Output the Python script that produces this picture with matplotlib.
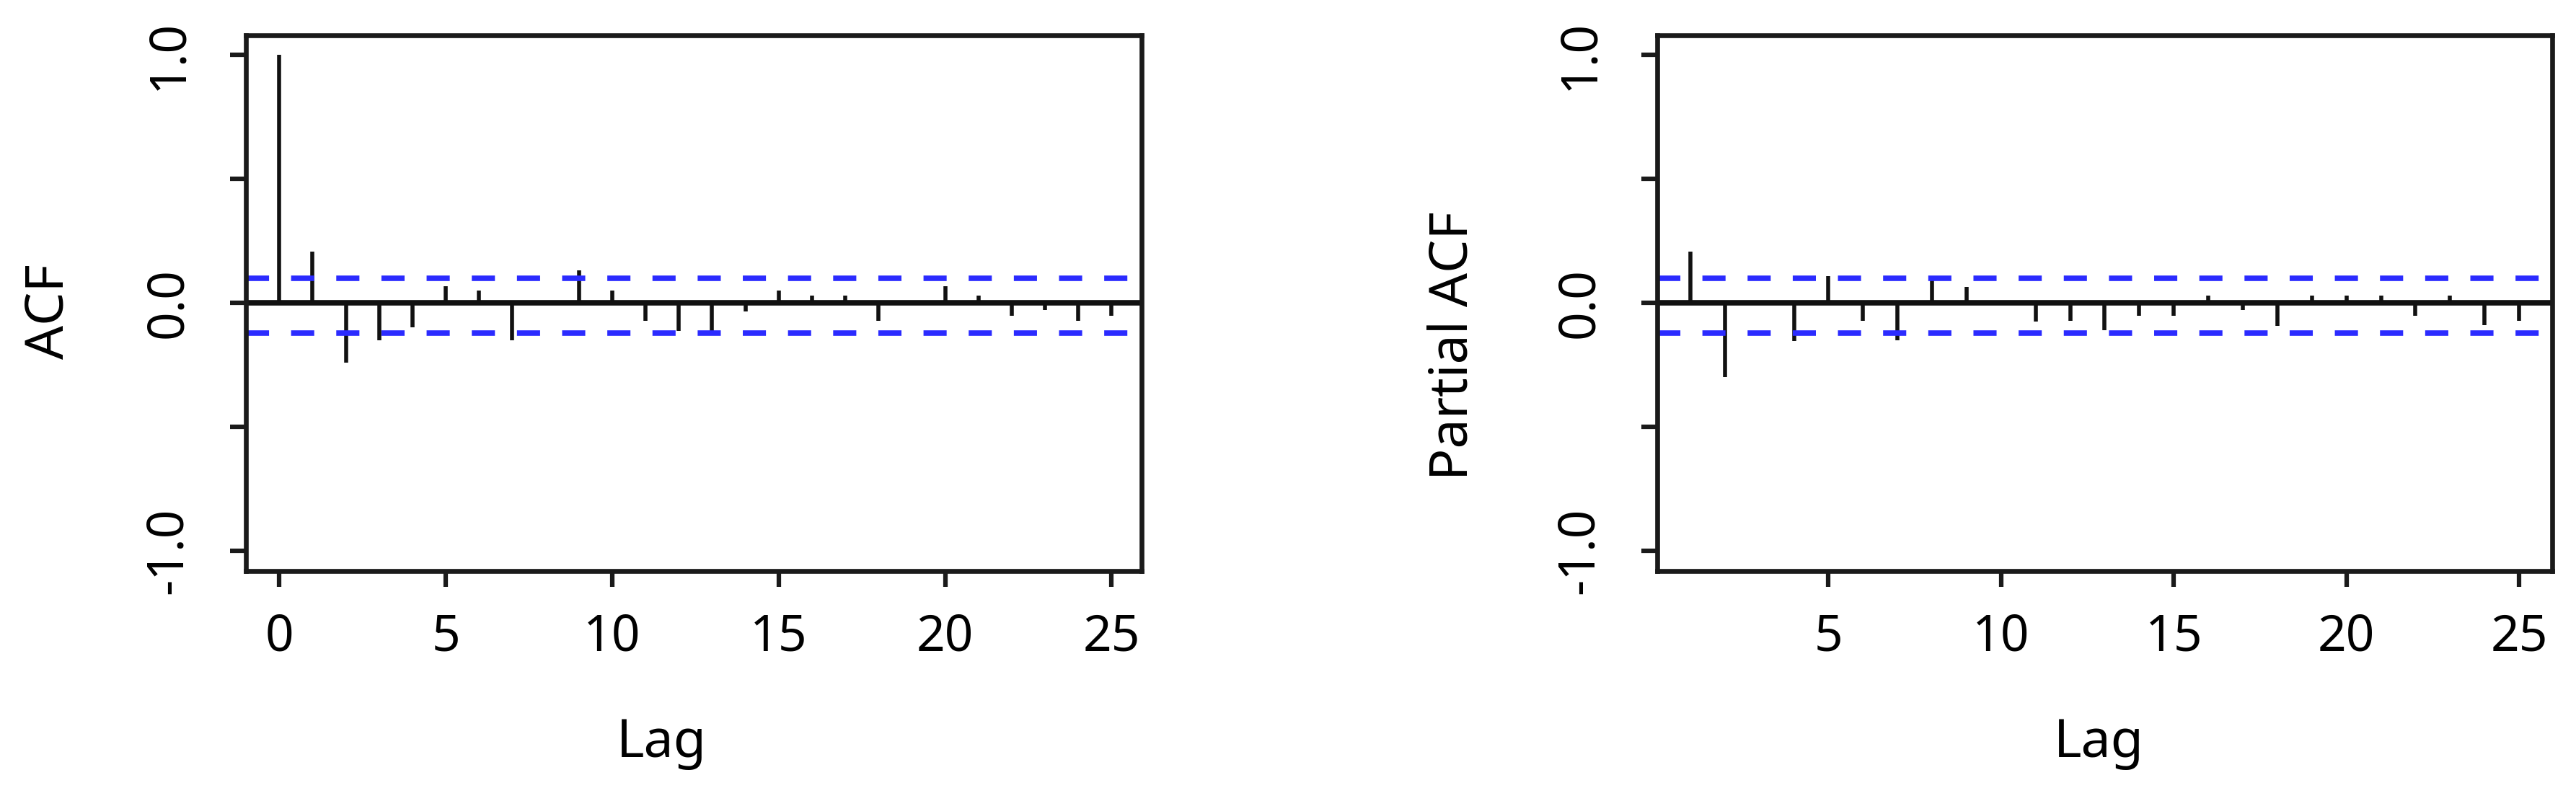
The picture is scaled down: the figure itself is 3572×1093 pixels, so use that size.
# -*- coding: utf-8 -*-
"""
ACF / PACF 图
"""

import matplotlib
matplotlib.use('Agg')
import matplotlib.pyplot as plt

matplotlib.rcParams['font.family'] = ['Noto Sans', 'DejaVu Sans']

# 数据
acf_lags = list(range(0, 26))
acf_vals = [1.0, 0.205, -0.24, -0.15, -0.10, 0.066, 0.05, -0.15, 0.01, 0.13,
            0.05, -0.073, -0.114, -0.114, -0.034, 0.05, 0.03, 0.03, -0.073, 0.0,
            0.068, 0.03, -0.053, -0.03, -0.073, -0.053]

pacf_lags = list(range(1, 26))
pacf_vals = [0.205, -0.30, 0.0, -0.155, 0.107, -0.073, -0.15, 0.089, 0.063, 0.0,
             -0.075, -0.073, -0.11, -0.053, -0.053, 0.03, -0.03, -0.092, 0.03, 0.03,
             0.03, -0.053, 0.03, -0.09, -0.073]

ci_upper = 0.098
ci_lower = -0.122

y_ticks = [-1.0, -0.5, 0.0, 0.5, 1.0]
y_ticklabels = ['-1.0', '', '0.0', '', '1.0']
acf_xticks = [0, 5, 10, 15, 20, 25]
pacf_xticks = [5, 10, 15, 20, 25]

W, H = 3573, 1093
fig = plt.figure(figsize=(W / 100, H / 100), dpi=100)

BLUE = '#2b2bff'
DARK = '#1a1a1a'


def draw_panel(ax, lags, vals, xticks, xlim):
    ax.vlines(lags, 0, vals, color='#111111', linewidth=4)
    ax.axhline(0, color='#111111', linewidth=5.5)
    for c in (ci_upper, ci_lower):
        ax.axhline(c, color=BLUE, linewidth=5.5, dashes=(4.2, 4.0))
    ax.set_xlim(*xlim)
    ax.set_ylim(-1.08, 1.08)
    ax.set_xticks(xticks)
    ax.set_yticks(y_ticks)
    ax.set_yticklabels(y_ticklabels)
    for s in ax.spines.values():
        s.set_linewidth(4.8)
        s.set_color(DARK)
    ax.tick_params(axis='both', length=16, width=4.5, color=DARK, labelsize=50)
    ax.tick_params(axis='x', pad=26)
    ax.tick_params(axis='y', pad=36, labelrotation=90)
    for lab in ax.get_yticklabels():
        lab.set_verticalalignment('center')


def px(x0, y0, x1, y1):
    return [x0 / W, 1 - y1 / H, (x1 - x0) / W, (y1 - y0) / H]


ax1 = fig.add_axes(px(341, 48.5, 1583, 791.5))
draw_panel(ax1, acf_lags, acf_vals, acf_xticks, (-1.0, 25.9))

ax2 = fig.add_axes(px(2298, 48.5, 3539, 791.5))
draw_panel(ax2, pacf_lags, pacf_vals, pacf_xticks, (0.04, 25.96))

# 轴标签
fig.text(917 / W, 1 - 1050 / H, 'Lag', fontsize=53, ha='center', va='baseline')
fig.text(2910 / W, 1 - 1050 / H, 'Lag', fontsize=53, ha='center', va='baseline')
fig.text(88 / W, 1 - 432 / H, 'ACF', fontsize=53, rotation=90,
         rotation_mode='anchor', ha='center', va='baseline')
fig.text(2035 / W, 1 - 480 / H, 'Partial ACF', fontsize=53, rotation=90,
         rotation_mode='anchor', ha='center', va='baseline')

plt.savefig('out.png', dpi=100)
plt.close()
